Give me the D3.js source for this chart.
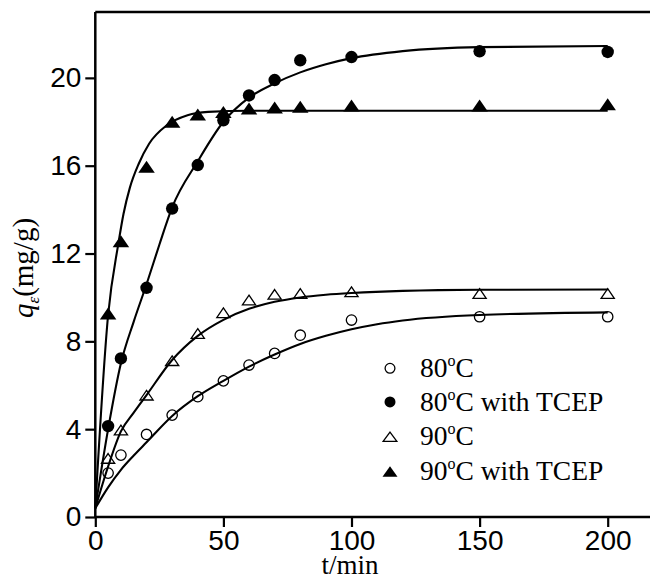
<!DOCTYPE html>
<html>
<head>
<meta charset="utf-8">
<script src="https://cdn.jsdelivr.net/npm/d3@7"></script>
<style>
  html, body { margin: 0; padding: 0; background: #fff; }
  svg { display: block; }
</style>
</head>
<body>
<svg id="chart" width="650" height="581"></svg>
<script>
// Sampling times (min) for the measured points
const times = [5, 10, 20, 30, 40, 50, 60, 70, 80, 100, 150, 200];

// Measured adsorption capacity q (mg/g)
const q80      = [2.0, 2.82, 3.76, 4.64, 5.48, 6.2, 6.92, 7.45, 8.28, 8.97, 9.12, 9.12];
const q80TCEP  = [4.14, 7.22, 10.44, 14.05, 16.03, 18.07, 19.2, 19.9, 20.8, 20.95, 21.21, 21.18];
const q90      = [2.67, 3.96, 5.55, 7.12, 8.36, 9.3, 9.88, 10.14, 10.18, 10.26, 10.18, 10.18];
const q90TCEP  = [9.27, 12.56, 15.95, 18.0, 18.33, 18.45, 18.6, 18.65, 18.68, 18.74, 18.74, 18.8];

// Kinetic fit curves (t, q)
const fit80T   = [0, 5, 10, 15, 20, 30, 40, 50, 60, 70, 80, 90, 100, 110, 120, 150, 200];
const fit80Q   = [0.4, 1.35, 2.15, 2.8, 3.4, 4.6, 5.5, 6.2, 6.85, 7.4, 7.88, 8.25, 8.55, 8.78, 8.95, 9.2, 9.32];
const fit90T   = [0, 5, 10, 15, 20, 30, 40, 50, 60, 70, 80, 90, 100, 120, 150, 200];
const fit90Q   = [0.4, 2.3, 3.9, 4.75, 5.55, 7.15, 8.25, 8.98, 9.48, 9.8, 10.0, 10.12, 10.2, 10.3, 10.35, 10.36];
const fit80TCEPT = [0, 5, 10, 15, 20, 25, 30, 40, 50, 60, 70, 80, 90, 100, 120, 150, 200];
const fit80TCEPQ = [0.4, 4.0, 7.0, 8.9, 10.6, 12.4, 14.1, 16.2, 18.0, 19.1, 19.75, 20.25, 20.62, 20.9, 21.22, 21.4, 21.45];
const fit90TCEPT = [0, 5, 9, 11, 13.5, 17, 21, 28, 36, 44, 60, 200];
const fit90TCEPQ = [0.4, 9.2, 12.45, 13.8, 15.0, 16.1, 17.0, 17.85, 18.3, 18.45, 18.5, 18.5];

// Axis ticks
const xTicks = [0, 50, 100, 150, 200];
const yTicks = [0, 4, 8, 12, 16, 20];

// Legend entries
const legendNames = ["80", "80", "90", "90"];
const legendSuffix = ["", " with TCEP", "", " with TCEP"];

const W = 650, H = 581;
const svg = d3.select("#chart");

const x = d3.scaleLinear().domain([0, 200]).range([95.3, 607.7]);
const y = d3.scaleLinear().domain([0, 23]).range([517, 12]);

const sans = "'Liberation Sans', Arial, sans-serif";
const serif = "'Liberation Serif', 'Times New Roman', serif";

// Frame: left axis, bottom axis, top line (open on the right)
const frame = svg.append("g").attr("stroke", "#000").attr("stroke-width", 2.5).attr("fill", "none");
frame.append("line").attr("x1", x(0)).attr("x2", x(0)).attr("y1", y(0)).attr("y2", y(23));
frame.append("line").attr("x1", x(0)).attr("x2", W).attr("y1", y(0)).attr("y2", y(0));
frame.append("line").attr("x1", x(0)).attr("x2", W).attr("y1", y(23)).attr("y2", y(23));

// Axes
const xAxis = svg.append("g")
  .attr("transform", `translate(0,${y(0)})`)
  .call(d3.axisBottom(x).tickValues(xTicks).tickSize(10).tickPadding(3).tickSizeOuter(0));
const yAxis = svg.append("g")
  .attr("transform", `translate(${x(0)},0)`)
  .call(d3.axisLeft(y).tickValues(yTicks).tickSize(10).tickPadding(4).tickSizeOuter(0));

[xAxis, yAxis].forEach(g => {
  g.select(".domain").remove();
  g.selectAll(".tick line").attr("stroke", "#000").attr("stroke-width", 2.2);
  g.selectAll(".tick text")
    .attr("fill", "#000")
    .style("font-family", sans)
    .style("font-size", "28px");
});

// Fit curves
const line = d3.line()
  .x(d => x(d[0]))
  .y(d => y(d[1]))
  .curve(d3.curveMonotoneX);

const fits = [
  [fit80T, fit80Q],
  [fit90T, fit90Q],
  [fit80TCEPT, fit80TCEPQ],
  [fit90TCEPT, fit90TCEPQ]
];
svg.append("g")
  .selectAll("path")
  .data(fits)
  .join("path")
  .attr("d", f => line(f[0].map((t, i) => [t, f[1][i]])))
  .attr("fill", "none")
  .attr("stroke", "#000")
  .attr("stroke-width", 2.1)
  .attr("stroke-linejoin", "round");

// Triangle path centred on its bounding box
function tri(w, h) {
  return `M0,${-h / 2}L${w / 2},${h / 2}L${-w / 2},${h / 2}Z`;
}

// Measured points
const series = [
  { q: q80, shape: "circle", filled: false },
  { q: q80TCEP, shape: "circle", filled: true },
  { q: q90, shape: "triangle", filled: false },
  { q: q90TCEP, shape: "triangle", filled: true }
];

function drawMarker(g, s, cx, cy, legend) {
  if (s.shape === "circle") {
    const r = legend ? 5.5 : (s.filled ? 6.2 : 5.8);
    g.append("circle")
      .attr("cx", cx).attr("cy", cy).attr("r", s.filled ? r : r - 0.6)
      .attr("fill", s.filled ? "#000" : "none")
      .attr("stroke", "#000")
      .attr("stroke-width", s.filled ? 0 : 1.3);
  } else {
    const w = legend ? 15 : (s.filled ? 16.5 : 14.5);
    const h = legend ? 10.5 : (s.filled ? 12 : 11);
    g.append("path")
      .attr("transform", `translate(${cx},${cy})`)
      .attr("d", s.filled ? tri(w, h) : tri(w - 1.3, h - 1.3))
      .attr("fill", s.filled ? "#000" : "none")
      .attr("stroke", "#000")
      .attr("stroke-width", s.filled ? 0 : 1.3)
      .attr("stroke-linejoin", "miter");
  }
}

const pts = svg.append("g");
series.forEach(s => {
  times.forEach((t, i) => drawMarker(pts, s, x(t), y(s.q[i]), false));
});

// Legend
const legend = svg.append("g");
const rowY = [368.3, 401.9, 436.7, 471.5];
series.forEach((s, i) => {
  drawMarker(legend, s, 390, rowY[i], true);
  const txt = legend.append("text")
    .attr("x", 420)
    .attr("y", rowY[i] + 8.6)
    .style("font-family", serif)
    .style("font-size", "27.5px")
    .attr("fill", "#000");
  txt.append("tspan").text(legendNames[i]);
  txt.append("tspan").attr("dy", -11).style("font-size", "16px").text("o");
  txt.append("tspan").attr("dy", 11).text("C" + legendSuffix[i]);
});

// Axis titles
svg.append("text")
  .attr("x", 350)
  .attr("y", 574)
  .attr("text-anchor", "middle")
  .style("font-family", serif)
  .style("font-size", "27px")
  .attr("fill", "#000")
  .text("t/min");

const yTitle = svg.append("text")
  .attr("transform", "translate(33,268) rotate(-90)")
  .attr("text-anchor", "middle")
  .style("font-family", serif)
  .style("font-size", "29px")
  .attr("fill", "#000");
yTitle.append("tspan").style("font-style", "italic").text("q");
yTitle.append("tspan").attr("dy", 6).style("font-size", "17px").style("font-style", "italic").text("ε");
yTitle.append("tspan").attr("dy", -6).text("(mg/g)");
</script>
</body>
</html>
